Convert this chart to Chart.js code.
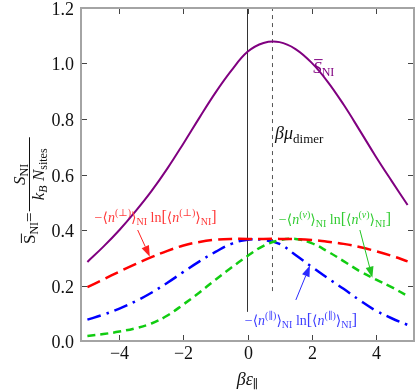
<!DOCTYPE html>
<html>
<head>
<meta charset="utf-8">
<script src="https://cdn.jsdelivr.net/npm/chart.js@4.4.1/dist/chart.umd.min.js"></script>
<style>
html,body{margin:0;padding:0;background:#fff;}
#wrap{width:415px;height:390px;}
</style>
</head>
<body>
<div id="wrap"><canvas id="c" width="415" height="390"></canvas></div>
<script>
// ---- data ----
const betaEps = [-5,-4.5,-4,-3.5,-3,-2.5,-2,-1.5,-1,-0.5,0,0.5,1,1.5,2,2.5,3,3.5,4,4.5,5];
const sTotal  = [0.285,0.340,0.400,0.467,0.540,0.622,0.712,0.805,0.895,0.975,1.042,1.074,1.077,1.052,1.003,0.935,0.852,0.760,0.666,0.577,0.490];
const sPerp   = [0.194,0.222,0.250,0.277,0.302,0.325,0.344,0.357,0.365,0.368,0.368,0.368,0.368,0.367,0.364,0.358,0.350,0.339,0.324,0.307,0.287];
const sPar    = [0.077,0.095,0.117,0.143,0.174,0.210,0.249,0.287,0.321,0.350,0.365,0.364,0.350,0.310,0.268,0.227,0.188,0.147,0.110,0.082,0.058];
const sVac    = [0.018,0.025,0.034,0.046,0.063,0.092,0.132,0.175,0.221,0.265,0.306,0.343,0.363,0.368,0.353,0.323,0.288,0.252,0.222,0.194,0.162];
const muDimer = 0.78;
const zeroLine = [0.105, 1.2];
const muLine = [0.18, 1.2];
const xTicks = [-4,-2,0,2,4];
const xTickLabels = ['\u22124','\u22122','0','2','4'];
const yTicks = [0,0.2,0.4,0.6,0.8,1.0,1.2];
const yTickLabels = ['0.0','0.2','0.4','0.6','0.8','1.0','1.2'];

// ---- annotation placement (data coordinates) ----
const ann = {
  sBar:   {x: 2.05, y: 0.965},
  mu:     {x: 0.86, y: 0.728},
  perp:   {x: -2.87, y: 0.428, tail:{x:-3.43,y:0.400}, head:{x:-3.05,y:0.304}},
  vac:    {x: 2.73, y: 0.422, tail:{x:3.51,y:0.400}, head:{x:3.90,y:0.228}},
  par:    {x: 1.67, y: 0.058, tail:{x:1.51,y:0.148}, head:{x:1.95,y:0.272}}
};

const SERIF = "'Liberation Serif','DejaVu Serif',serif";
Chart.defaults.font.family = SERIF;
const pts = arr => betaEps.map((x,i)=>({x:x,y:arr[i]}));

function drawRich(ctx, segs, x, y, align, color){
  let w = 0;
  segs.forEach(s=>{
    ctx.font = (s.it?'italic ':'') + s.size + 'px ' + SERIF;
    s.w = ctx.measureText(s.t).width; w += s.w;
  });
  let cx = align==='center' ? x - w/2 : (align==='right' ? x - w : x);
  ctx.fillStyle = color; ctx.strokeStyle = color;
  ctx.textBaseline = 'alphabetic'; ctx.textAlign = 'left';
  segs.forEach(s=>{
    ctx.font = (s.it?'italic ':'') + s.size + 'px ' + SERIF;
    ctx.fillText(s.t, cx, y + (s.dy||0));
    if (s.bar){
      ctx.lineWidth = 1;
      ctx.beginPath();
      ctx.moveTo(cx + 1, y - s.size*0.80);
      ctx.lineTo(cx + s.w + 1, y - s.size*0.80);
      ctx.stroke();
    }
    cx += s.w;
  });
  return w;
}

function labelSegs(sup, supIt){
  const B = 14, s = 10;
  const supSegs = supIt
    ? [{t:'(',size:s,dy:-6},{t:sup,size:s,dy:-6,it:1},{t:')',size:s,dy:-6}]
    : [{t:'('+sup+')',size:s,dy:-6}];
  const mid = [{t:'\u27E8',size:B},{t:'n',size:B,it:1}].concat(supSegs, [{t:'\u27E9',size:B},{t:'NI',size:s,dy:3}]);
  return [{t:'\u2212',size:B}].concat(mid.map(o=>Object.assign({},o)),
    [{t:' ln',size:B},{t:'[',size:B+2}],
    mid.map(o=>Object.assign({},o)),
    [{t:']',size:B+2}]);
}

function arrow(ctx, x1, y1, x2, y2, color){
  const ang = Math.atan2(y2-y1, x2-x1);
  const L = 11, W = 4;
  const bx = x2 - L*Math.cos(ang), by = y2 - L*Math.sin(ang);
  ctx.strokeStyle = color; ctx.fillStyle = color; ctx.lineWidth = 1;
  ctx.beginPath(); ctx.moveTo(x1,y1); ctx.lineTo(bx,by); ctx.stroke();
  ctx.beginPath();
  ctx.moveTo(x2,y2);
  ctx.lineTo(bx + W*Math.sin(ang), by - W*Math.cos(ang));
  ctx.lineTo(bx - W*Math.sin(ang), by + W*Math.cos(ang));
  ctx.closePath(); ctx.fill();
}

const decor = {
  id:'decor',
  afterDraw(chart){
    const ctx = chart.ctx, a = chart.chartArea;
    const xs = chart.scales.x, ys = chart.scales.y;
    ctx.save();
    // inner ticks on all sides + tick labels
    ctx.strokeStyle = '#444'; ctx.lineWidth = 1;
    const T = 6;
    xTicks.forEach((v,i)=>{
      const px = Math.round(xs.getPixelForValue(v)) + 0.5;
      ctx.strokeStyle = '#444';
      ctx.beginPath();
      ctx.moveTo(px, a.bottom); ctx.lineTo(px, a.bottom - T);
      ctx.moveTo(px, a.top); ctx.lineTo(px, a.top + T);
      ctx.stroke();
      drawRich(ctx, [{t:xTickLabels[i], size:18}], px, a.bottom + 18, 'center', '#111');
    });
    yTicks.forEach((v,i)=>{
      const py = Math.round(ys.getPixelForValue(v)) + 0.5;
      ctx.strokeStyle = '#444';
      ctx.beginPath();
      ctx.moveTo(a.left, py); ctx.lineTo(a.left + T, py);
      ctx.moveTo(a.right, py); ctx.lineTo(a.right - T, py);
      ctx.stroke();
      drawRich(ctx, [{t:yTickLabels[i], size:18}], a.left - 7, py + 6, 'right', '#111');
    });
    // frame
    ctx.strokeStyle = '#a4a4a4'; ctx.lineWidth = 2;
    ctx.strokeRect(a.left, a.top, a.right - a.left, a.bottom - a.top);

    // x title
    drawRich(ctx, [{t:'\u03B2',size:18,it:1},{t:'\u03B5',size:18,it:1},{t:'\u2225',size:12,dy:3}],
      (a.left + a.right)/2, 385, 'center', '#111');

    // y title (rotated)
    ctx.save();
    ctx.rotate(-Math.PI/2);
    const u0 = -244;
    const w1 = drawRich(ctx, [{t:'S',size:17,it:0,bar:1},{t:'NI',size:12,dy:3},{t:'=',size:17}], u0, 35, 'left', '#111');
    const fu = u0 + w1 + 1, fl = 74;
    ctx.strokeStyle = '#111'; ctx.lineWidth = 1;
    ctx.beginPath(); ctx.moveTo(fu, 29.5); ctx.lineTo(fu + fl, 29.5); ctx.stroke();
    drawRich(ctx, [{t:'S',size:17,it:1},{t:'NI',size:12,dy:3}], fu + fl/2, 25, 'center', '#111');
    drawRich(ctx, [{t:'k',size:17,it:1},{t:'B',size:12,it:1,dy:3},{t:' N',size:17,it:1},{t:'sites',size:12,dy:3}], fu + fl/2, 44, 'center', '#111');
    ctx.restore();

    // annotations
    const P = o => ({x: xs.getPixelForValue(o.x), y: ys.getPixelForValue(o.y)});
    let p = P(ann.sBar);
    drawRich(ctx, [{t:'S',size:17,it:1,bar:1},{t:'NI',size:12,dy:3}], p.x, p.y, 'left', '#800080');
    p = P(ann.mu);
    drawRich(ctx, [{t:'\u03B2\u03BC',size:18,it:1},{t:'dimer',size:13,dy:4}], p.x, p.y, 'left', '#111');

    p = P(ann.perp);
    drawRich(ctx, labelSegs('\u22A5', false), p.x, p.y, 'center', '#ff3a3a');
    let t = P(ann.perp.tail), h = P(ann.perp.head);
    arrow(ctx, t.x, t.y, h.x, h.y, '#ff2020');

    p = P(ann.vac);
    drawRich(ctx, labelSegs('v', true), p.x, p.y, 'center', '#33cc33');
    t = P(ann.vac.tail); h = P(ann.vac.head);
    arrow(ctx, t.x, t.y, h.x, h.y, '#22c422');

    p = P(ann.par);
    drawRich(ctx, labelSegs('\u2225', false), p.x, p.y, 'center', '#3d3dff');
    t = P(ann.par.tail); h = P(ann.par.head);
    arrow(ctx, t.x, t.y, h.x, h.y, '#2a2aff');

    ctx.restore();
  }
};

new Chart(document.getElementById('c'), {
  type: 'line',
  data: {
    datasets: [
      {data: pts(sTotal), borderColor:'#800080', borderWidth:2, tension:0.4},
      {data: pts(sPerp), borderColor:'#ff0000', borderWidth:2.5, borderDash:[14,6], tension:0.4},
      {data: pts(sVac), borderColor:'#11cc11', borderWidth:2.5, borderDash:[8,5], tension:0.4},
      {data: pts(sPar), borderColor:'#0000ff', borderWidth:2.5, borderDash:[14,6,2.5,6], tension:0.4},
      {data: zeroLine.map(y=>({x:0,y:y})), borderColor:'#333', borderWidth:1},
      {data: muLine.map(y=>({x:muDimer,y:y})), borderColor:'#555', borderWidth:1, borderDash:[4,4]}
    ]
  },
  options: {
    responsive:false, animation:false, devicePixelRatio:1,
    elements:{point:{radius:0}, line:{fill:false}},
    layout:{padding:{top:8,right:1,left:0,bottom:0}},
    plugins:{legend:{display:false}, tooltip:{enabled:false}},
    scales:{
      x:{type:'linear', min:-5.2, max:5.2,
        grid:{display:false, drawTicks:false}, border:{display:false},
        afterBuildTicks: s => { s.ticks = xTicks.map(v=>({value:v})); },
        afterFit: s => { s.height = 49; },
        ticks:{display:false}},
      y:{type:'linear', min:0, max:1.2,
        grid:{display:false, drawTicks:false}, border:{display:false},
        afterBuildTicks: s => { s.ticks = yTicks.map(v=>({value:v})); },
        afterFit: s => { s.width = 81; },
        ticks:{display:false}}
    }
  },
  plugins:[decor]
});
</script>
</body>
</html>
